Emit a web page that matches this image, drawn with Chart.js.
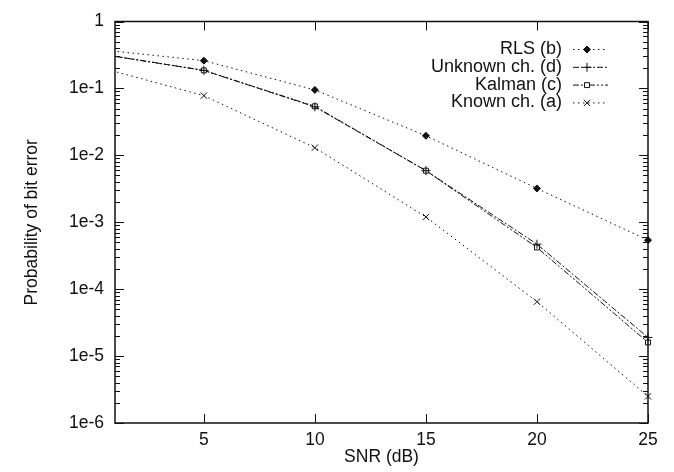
<!DOCTYPE html>
<html>
<head>
<meta charset="utf-8">
<script src="https://cdn.jsdelivr.net/npm/chart.js@4.4.0/dist/chart.umd.min.js"></script>
<style>
  html, body { margin: 0; padding: 0; background: #fff; }
</style>
</head>
<body>
<canvas id="berChart" width="674" height="472"></canvas>
<script>
// SNR (dB) points, the 0 dB point sits left of the visible axis and gets clipped
const snr = [0, 5, 10, 15, 20, 25];
const rls = [0.39, 0.26, 0.095, 0.0196, 0.0032, 5.4e-4];
const unknownCh = [0.34, 0.186, 0.053, 0.0059, 4.7e-4, 1.9e-5];
const kalman = [0.34, 0.186, 0.054, 0.0059, 4.2e-4, 1.6e-5];
const knownCh = [0.22, 0.078, 0.013, 1.2e-3, 6.5e-5, 2.5e-6];

const xTicks = [5, 10, 15, 20, 25];
const yTicks = [1, 1e-1, 1e-2, 1e-3, 1e-4, 1e-5, 1e-6];
const yTickLabels = ['1', '1e-1', '1e-2', '1e-3', '1e-4', '1e-5', '1e-6'];

const seriesNames = ['RLS (b)', 'Unknown ch. (d)', 'Kalman (c)', 'Known ch. (a)'];

const FONT = "'Liberation Sans', Arial, Helvetica, sans-serif";
const INK = '#111';

function toPoints(vals) {
  return snr.map((x, i) => ({ x: x, y: vals[i] }));
}

function makeSet(label, vals, dash, style, radius, fill) {
  return {
    label: label,
    data: toPoints(vals),
    borderColor: INK,
    borderWidth: 1,
    borderDash: dash,
    pointStyle: style,
    pointRadius: radius,
    pointBorderWidth: 1,
    pointBorderColor: INK,
    pointBackgroundColor: fill,
    tension: 0,
    fill: false,
    clip: { left: 0, top: 8, right: 8, bottom: 8 }
  };
}

// gnuplot style frame, inward ticks and key
const framePlugin = {
  id: 'frame',
  afterDatasetsDraw(chart) {
    const ctx = chart.ctx;
    const a = chart.chartArea;
    const x = chart.scales.x;
    const y = chart.scales.y;
    ctx.save();
    ctx.strokeStyle = INK;
    ctx.setLineDash([]);
    ctx.lineWidth = 1.5;
    ctx.strokeRect(a.left, a.top, a.right - a.left, a.bottom - a.top);

    ctx.lineWidth = 1;
    ctx.beginPath();
    for (let e = -6; e <= 0; e++) {
      for (let m = 1; m <= 9; m++) {
        const v = m * Math.pow(10, e);
        if (v > 1) break;
        const py = Math.round(y.getPixelForValue(v)) + 0.5;
        const len = m === 1 ? 9 : 5;
        ctx.moveTo(a.left, py); ctx.lineTo(a.left + len, py);
        ctx.moveTo(a.right, py); ctx.lineTo(a.right - len, py);
      }
    }
    xTicks.forEach(v => {
      const px = Math.round(x.getPixelForValue(v)) + 0.5;
      ctx.moveTo(px, a.bottom); ctx.lineTo(px, a.bottom - 9);
      ctx.moveTo(px, a.top); ctx.lineTo(px, a.top + 9);
    });
    ctx.stroke();

    // key
    ctx.font = '18px ' + FONT;
    ctx.fillStyle = INK;
    ctx.textAlign = 'right';
    ctx.textBaseline = 'middle';
    chart.data.datasets.forEach((ds, i) => {
      const ky = 49 + i * 17.8;
      ctx.fillText(ds.label, 562, ky);
      ctx.beginPath();
      ctx.setLineDash(ds.borderDash);
      ctx.moveTo(573, ky + 0.5);
      ctx.lineTo(608, ky + 0.5);
      ctx.stroke();
      ctx.setLineDash([]);
      ctx.fillStyle = ds.pointBackgroundColor;
      Chart.helpers.drawPoint(ctx, {
        pointStyle: ds.pointStyle,
        radius: ds.pointRadius,
        rotation: 0,
        borderWidth: 1
      }, 587, ky + 0.5);
      ctx.fillStyle = INK;
    });
    ctx.restore();
  }
};

const ctx = document.getElementById('berChart').getContext('2d');
new Chart(ctx, {
  type: 'line',
  data: {
    datasets: [
      makeSet(seriesNames[0], rls, [1.5, 3.5], 'rectRot', 3.5, INK),
      makeSet(seriesNames[1], unknownCh, [6, 2, 2, 2], 'cross', 4.5, INK),
      makeSet(seriesNames[2], kalman, [6, 2, 2, 2, 2, 2], 'rect', 3.5, '#fff'),
      makeSet(seriesNames[3], knownCh, [1.5, 3.5], 'crossRot', 4.5, INK)
    ]
  },
  options: {
    responsive: false,
    animation: false,
    layout: { padding: { left: 0, top: 12, right: 26, bottom: 0 } },
    plugins: {
      legend: { display: false },
      tooltip: { enabled: false }
    },
    scales: {
      x: {
        type: 'linear',
        min: 1,
        max: 25,
        afterBuildTicks: s => { s.ticks = xTicks.map(v => ({ value: v })); },
        afterFit: s => { s.height = 49; },
        grid: { display: false, drawTicks: false },
        border: { display: false },
        ticks: {
          padding: 7,
          color: INK,
          font: { family: FONT, size: 17.5 },
          maxRotation: 0
        },
        title: {
          display: true,
          text: 'SNR (dB)',
          color: INK,
          font: { family: FONT, size: 17.5 },
          padding: { top: 0, bottom: 4 }
        }
      },
      y: {
        type: 'logarithmic',
        min: 1e-6,
        max: 1,
        afterBuildTicks: s => { s.ticks = yTicks.map(v => ({ value: v })); },
        afterFit: s => { s.width = 115; },
        grid: { display: false, drawTicks: false },
        border: { display: false },
        ticks: {
          padding: 11,
          color: INK,
          font: { family: FONT, size: 17.5 },
          callback: v => {
            const i = yTicks.indexOf(v);
            return i >= 0 ? yTickLabels[i] : '';
          }
        },
        title: {
          display: true,
          text: 'Probability of bit error',
          color: INK,
          font: { family: FONT, size: 17.5 },
          padding: { top: 22, bottom: 0 }
        }
      }
    }
  },
  plugins: [framePlugin]
});
</script>
</body>
</html>
